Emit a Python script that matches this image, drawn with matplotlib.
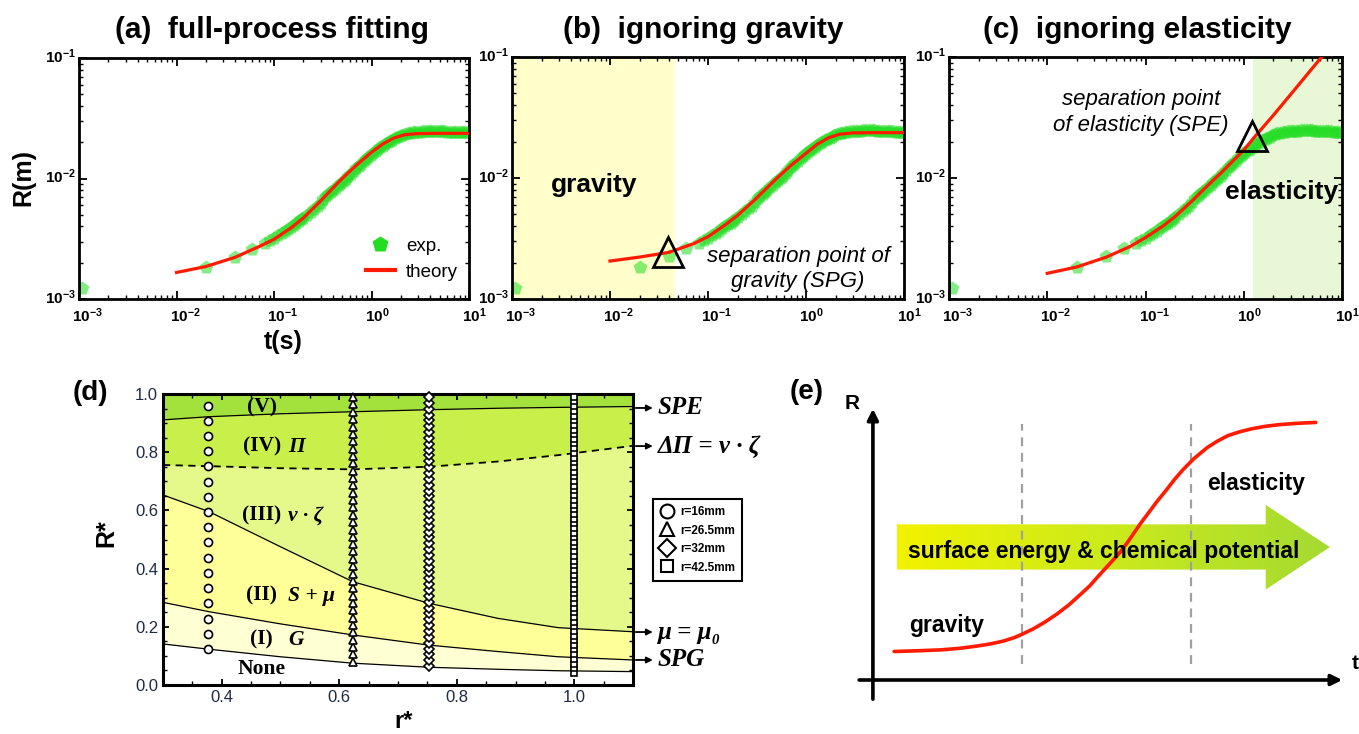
import numpy as np
import matplotlib.pyplot as plt
from matplotlib.lines import Line2D
from matplotlib.patches import Polygon
from matplotlib.colors import LinearSegmentedColormap
from matplotlib.transforms import ScaledTranslation

plt.rcParams['font.family'] = ['Liberation Sans', 'DejaVu Sans']
plt.rcParams['mathtext.fontset'] = 'custom'
plt.rcParams['mathtext.rm'] = 'Liberation Sans:bold'
plt.rcParams['mathtext.it'] = 'Liberation Sans:bold:italic'
plt.rcParams['mathtext.bf'] = 'Liberation Sans:bold'

# ---- (a)-(c): experiment, R(t) in m
t_exp = [0.00107, 0.02, 0.04, 0.06, 0.08, 0.09,
         0.10, 0.11, 0.12, 0.13, 0.14, 0.15, 0.16, 0.17, 0.18, 0.19, 0.20, 0.22,
         0.24, 0.26, 0.28, 0.30, 0.32, 0.34, 0.36, 0.38, 0.40, 0.43, 0.46, 0.49,
         0.52, 0.55, 0.58, 0.62, 0.66, 0.70, 0.74, 0.78, 0.83, 0.88, 0.93, 0.98,
         1.04, 1.10, 1.16, 1.23, 1.30, 1.38, 1.46, 1.55, 1.64, 1.74, 1.84, 1.95,
         2.07, 2.20, 2.35, 2.50, 2.65, 2.80, 3.00, 3.20, 3.40, 3.60, 3.85, 4.10,
         4.40, 4.70, 5.00, 5.30, 5.60, 6.00, 6.40, 6.80, 7.20, 7.70, 8.20, 8.70,
         9.20, 9.70]
R_exp = [0.00123, 0.00183, 0.00225, 0.00262, 0.00292, 0.00307,
         0.00322, 0.00338, 0.00353, 0.00368, 0.00383, 0.00398, 0.00413, 0.00428,
         0.00443, 0.00458, 0.00472, 0.0050, 0.0053, 0.0056, 0.0059, 0.0063,
         0.0068, 0.0071, 0.0074, 0.0077, 0.0080, 0.0084, 0.0088, 0.0092, 0.0096,
         0.0100, 0.0104, 0.0109, 0.0116, 0.0123, 0.0128, 0.0133, 0.0139, 0.0145,
         0.0151, 0.0157, 0.0163, 0.0169, 0.0175, 0.0181, 0.0187, 0.0193, 0.0199,
         0.0205, 0.0210, 0.0215, 0.0220, 0.0225, 0.0230, 0.0234, 0.0237, 0.0240,
         0.0242, 0.0243, 0.0244, 0.0245, 0.0246, 0.0246, 0.0247, 0.0247, 0.0247,
         0.0247, 0.0247, 0.0246, 0.0246, 0.0245, 0.0245, 0.0244, 0.0244, 0.0243,
         0.0242, 0.0242, 0.0241, 0.0241]

# theory curves
t_full = [0.01, 0.02, 0.04, 0.07, 0.1, 0.15, 0.2, 0.3, 0.4, 0.5, 0.7, 1.0, 1.3,
          1.7, 2.2, 3.0, 5.0, 10]
R_full = [0.00166, 0.00186, 0.00222, 0.00272, 0.00313, 0.0039, 0.0047, 0.0065,
          0.0083, 0.0100, 0.0129, 0.0165, 0.0193, 0.0217, 0.0231, 0.0236, 0.0237,
          0.0237]
R_nograv = [0.00206, 0.00222, 0.00243, 0.00285, 0.00327, 0.0041, 0.0049, 0.0066,
            0.0083, 0.0099, 0.0127, 0.0160, 0.0190, 0.0215, 0.0230, 0.0236,
            0.0237, 0.0237]
t_noelas = [0.01, 0.02, 0.04, 0.07, 0.1, 0.15, 0.2, 0.3, 0.4, 0.6, 1.0, 1.3, 2.0,
            3.0, 4.5, 6.2]
R_noelas = [0.00163, 0.00184, 0.00222, 0.00272, 0.00322, 0.0040, 0.0048, 0.0065,
            0.0082, 0.0112, 0.0170, 0.0220, 0.0330, 0.0490, 0.0730, 0.1000]

spg_t, spg_R = 0.0394, 0.00244
spe_t, spe_R = 1.22, 0.0222
gravity_end = 0.046
elastic_start = 1.25

# ---- (d): phase diagram
r_line = [0.3, 0.378, 0.5, 0.623, 0.7525, 0.87, 0.973, 1.1]
spe_line = [0.911, 0.922, 0.932, 0.939, 0.946, 0.951, 0.954, 0.957]
pi_line = [0.756, 0.752, 0.745, 0.741, 0.750, 0.768, 0.790, 0.822]
mu_line = [0.653, 0.596, 0.475, 0.355, 0.281, 0.229, 0.197, 0.183]
spg_line = [0.284, 0.252, 0.210, 0.172, 0.137, 0.115, 0.097, 0.086]
none_line = [0.141, 0.123, 0.097, 0.075, 0.061, 0.054, 0.049, 0.046]

r_16, r_265, r_32, r_425 = 0.376, 0.624, 0.753, 1.0
R_16 = [0.124, 0.176, 0.228, 0.281, 0.333, 0.385, 0.437, 0.490, 0.542, 0.594,
        0.646, 0.699, 0.751, 0.803, 0.855, 0.908, 0.960]
R_265 = [0.080, 0.105, 0.130, 0.156, 0.181, 0.206, 0.231, 0.257, 0.282, 0.307,
         0.332, 0.358, 0.383, 0.408, 0.433, 0.459, 0.484, 0.509, 0.534, 0.560,
         0.585, 0.610, 0.635, 0.661, 0.686, 0.711, 0.736, 0.762, 0.787, 0.812,
         0.837, 0.863, 0.888, 0.913, 0.938, 0.964, 0.989]
R_32 = [0.065, 0.085, 0.105, 0.125, 0.145, 0.166, 0.186, 0.206, 0.226, 0.246,
        0.266, 0.286, 0.306, 0.326, 0.346, 0.367, 0.387, 0.407, 0.427, 0.447,
        0.467, 0.487, 0.507, 0.527, 0.547, 0.568, 0.588, 0.608, 0.628, 0.648,
        0.668, 0.688, 0.708, 0.728, 0.748, 0.769, 0.789, 0.809, 0.829, 0.849,
        0.869, 0.889, 0.909, 0.929, 0.949, 0.970, 0.990]
R_425 = [0.041, 0.057, 0.073, 0.089, 0.105, 0.122, 0.138, 0.154, 0.170, 0.186,
         0.202, 0.218, 0.234, 0.250, 0.266, 0.282, 0.299, 0.315, 0.331, 0.347,
         0.363, 0.379, 0.395, 0.411, 0.427, 0.443, 0.460, 0.476, 0.492, 0.508,
         0.524, 0.540, 0.556, 0.572, 0.588, 0.604, 0.620, 0.637, 0.653, 0.669,
         0.685, 0.701, 0.717, 0.733, 0.749, 0.765, 0.781, 0.797, 0.814, 0.830,
         0.846, 0.862, 0.878, 0.894, 0.910, 0.926, 0.942, 0.958, 0.975, 0.991]

region_roman = ['(V)', '(IV)', '(III)', '(II)', '(I)', 'None']
region_ital = ['', 'Π', 'ν · ζ', 'S + μ', 'G', '']
region_R = [0.952, 0.819, 0.582, 0.306, 0.155, 0.055]
side_labels = ['SPE', 'ΔΠ = ν · ζ', 'μ = μ₀', 'SPG']
side_R = [0.952, 0.821, 0.182, 0.086]

# ---- (e): schematic
sk_t = [0.45, 1.0, 1.44, 1.8, 2.17, 2.5, 2.76, 3.0, 3.16, 3.4, 3.64, 3.9, 4.15,
        4.37, 4.59, 4.77, 4.95, 5.10, 5.25, 5.40, 5.54, 5.68, 5.83, 6.01, 6.20,
        6.38, 6.56, 6.80, 7.08, 7.30, 7.52, 7.77, 8.03, 8.32, 8.61, 9.0, 9.38]
sk_R = [1.04, 1.07, 1.10, 1.15, 1.23, 1.32, 1.42, 1.55, 1.67, 1.87, 2.11, 2.41,
        2.74, 3.08, 3.43, 3.78, 4.12, 4.40, 4.69, 5.04, 5.39, 5.74, 6.08, 6.50,
        6.90, 7.30, 7.66, 8.08, 8.48, 8.72, 8.92, 9.06, 9.17, 9.26, 9.32, 9.37,
        9.40]
stage_t = [3.16, 6.73]
arrow_t = [0.50, 8.32, 8.32, 9.68, 8.32, 8.32, 0.50]
arrow_R = [4.03, 4.03, 3.30, 4.85, 6.39, 5.68, 5.68]

W, H = 1359, 734


def box(l, t, r, b):
    return [l / W, 1 - b / H, (r - l) / W, (b - t) / H]


fig = plt.figure(figsize=(W / 100, H / 100), dpi=100)

GREEN = '#22DD22'
RED = '#FF1A00'
x_shift = ScaledTranslation(-0.07, 0, fig.dpi_scale_trans)
y_shift = ScaledTranslation(0, 0.03, fig.dpi_scale_trans)


def log_panel(ax, t_th, R_th):
    ax.set_xscale('log')
    ax.set_yscale('log')
    ax.plot(t_exp, R_exp, 'p', ms=10.5, color=GREEN, alpha=0.55, mec='none', zorder=2)
    ax.plot(t_th, R_th, color=RED, lw=2.3, zorder=3)
    ax.set_xlim(1e-3, 10)
    ax.set_ylim(1e-3, 1e-1)
    ax.set_xticks([1e-3, 1e-2, 1e-1, 1, 10])
    ax.set_xticklabels([r'$10^{-3}$', r'$10^{-2}$', r'$10^{-1}$', r'$10^{0}$', r'$10^{1}$'])
    ax.set_yticks([1e-3, 1e-2, 1e-1])
    ax.set_yticklabels([r'$10^{-3}$', r'$10^{-2}$', r'$10^{-1}$'])
    ax.tick_params(which='both', direction='in', top=True, right=True, labelsize=11)
    ax.tick_params(which='major', length=6, width=1.3, pad=5)
    ax.tick_params(axis='y', which='major', pad=2)
    ax.tick_params(which='minor', length=3, width=1)
    for lab in ax.get_xticklabels():
        lab.set_horizontalalignment('left')
        lab.set_transform(lab.get_transform() + x_shift)
    for lab in ax.get_yticklabels():
        lab.set_transform(lab.get_transform() + y_shift)
    for s in ax.spines.values():
        s.set_linewidth(2)


ax_a = fig.add_axes(box(79, 58, 469, 299))
log_panel(ax_a, t_full, R_full)
h_exp = Line2D([], [], ls='none', marker='p', ms=12, color=GREEN, mec='none')
h_th = Line2D([], [], color=RED, lw=3)
ax_a.legend([h_exp, h_th], ['exp.', 'theory'], loc='lower right',
            bbox_to_anchor=(1.0, 0.03), frameon=False, fontsize=13.5,
            handlelength=1.5, handletextpad=0.6, labelspacing=0.45, borderaxespad=0.2)

ax_b = fig.add_axes(box(512, 57, 904, 299))
log_panel(ax_b, t_full, R_nograv)
ax_b.axvspan(1e-3, gravity_end, color='#FFFFCC', zorder=0, lw=0)
ax_b.plot(spg_t, spg_R, '^', ms=21, mfc='none', mec='k', mew=2, zorder=5)
ax_b.text(0.209, 0.471, 'gravity', transform=ax_b.transAxes, ha='center', va='center',
          fontsize=19, fontweight='bold')
ax_b.text(0.73, 0.124, 'separation point of\ngravity (SPG)', transform=ax_b.transAxes,
          ha='center', va='center', fontsize=16, style='italic', linespacing=1.3)

ax_c = fig.add_axes(box(949, 57, 1342, 299))
log_panel(ax_c, t_noelas, R_noelas)
ax_c.axvspan(elastic_start, 10, color='#E8F8D6', zorder=0, lw=0)
ax_c.plot(spe_t, spe_R, '^', ms=21, mfc='none', mec='k', mew=2, zorder=5)
ax_c.text(0.847, 0.442, 'elasticity', transform=ax_c.transAxes, ha='center', va='center',
          fontsize=19, fontweight='bold')
ax_c.text(0.489, 0.772, 'separation point\nof elasticity (SPE)', transform=ax_c.transAxes,
          ha='center', va='center', fontsize=16, style='italic', linespacing=1.3)

fig.text(272 / W, 1 - 30 / H, '(a)  full-process fitting', ha='center', va='center',
         fontsize=21.5, fontweight='bold')
fig.text(703 / W, 1 - 30 / H, '(b)  ignoring gravity', ha='center', va='center',
         fontsize=21.5, fontweight='bold')
fig.text(1137 / W, 1 - 30 / H, '(c)  ignoring elasticity', ha='center', va='center',
         fontsize=21.5, fontweight='bold')
fig.text(23 / W, 1 - 178 / H, 'R(m)', rotation=90, ha='center', va='center',
         fontsize=18, fontweight='bold')
fig.text(283 / W, 1 - 342 / H, 't(s)', ha='center', va='center',
         fontsize=18, fontweight='bold')

# ---- (d)
ax_d = fig.add_axes(box(163, 394, 633, 685))
ax_d.fill_between(r_line, spe_line, 1.0, color='#A3E23C', lw=0)
ax_d.fill_between(r_line, pi_line, spe_line, color='#C9F04A', lw=0)
ax_d.fill_between(r_line, mu_line, pi_line, color='#E4F98A', lw=0)
ax_d.fill_between(r_line, spg_line, mu_line, color='#FFFF99', lw=0)
ax_d.fill_between(r_line, none_line, spg_line, color='#FFFFD4', lw=0)
for line in (spe_line, mu_line, spg_line, none_line):
    ax_d.plot(r_line, line, color='k', lw=0.9)
ax_d.plot(r_line, pi_line, color='k', lw=1.3, dashes=(4, 3))

mk = dict(ls='none', mfc='white', mec='k', mew=1.2, clip_on=False, zorder=4)
ax_d.plot([r_16] * len(R_16), R_16, marker='o', ms=5.8, **mk)
ax_d.plot([r_265] * len(R_265), R_265, marker='^', ms=6, **mk)
ax_d.plot([r_32] * len(R_32), R_32, marker='D', ms=5.2, **mk)
ax_d.plot([r_425] * len(R_425), R_425, marker='s', ms=4.6, **mk)

serif = ['Liberation Serif', 'DejaVu Serif']
for rom, ital, y in zip(region_roman, region_ital, region_R):
    ax_d.text(0.468, y, rom, ha='center', va='center', fontsize=15.5,
              fontweight='bold', family=serif)
    if ital:
        ax_d.text(0.513, y, ital, ha='left', va='center', fontsize=15.5,
                  fontweight='bold', style='italic', family=serif)

ax_d.set_xlim(0.3, 1.1)
ax_d.set_ylim(0, 1)
ax_d.set_xticks([0.4, 0.6, 0.8, 1.0])
ax_d.set_yticks([0.0, 0.2, 0.4, 0.6, 0.8, 1.0])
ax_d.set_xticks(np.arange(0.3, 1.1, 0.05), minor=True)
ax_d.set_yticks(np.arange(0.0, 1.0, 0.05), minor=True)
ax_d.tick_params(which='both', direction='in', top=True, right=True,
                 labelsize=12, labelcolor='#1E2B45')
ax_d.tick_params(which='major', length=4, width=1.3)
ax_d.tick_params(which='minor', length=3, width=1)
ax_d.set_xticklabels(['0.4', '0.6', '0.8', '1.0'])
ax_d.set_yticklabels(['0.0', '0.2', '0.4', '0.6', '0.8', '1.0'])
for s in ax_d.spines.values():
    s.set_linewidth(2.2)

trans = ax_d.get_yaxis_transform()
for txt, y in zip(side_labels, side_R):
    ax_d.annotate('', xy=(1.048, y), xycoords=trans, xytext=(1.0, y), textcoords=trans,
                  arrowprops=dict(arrowstyle='-|>', color='k', lw=1.3, mutation_scale=9),
                  annotation_clip=False)
    ax_d.text(1.052, y, txt, transform=trans, ha='left', va='center', fontsize=18,
              fontweight='bold', style='italic', family=serif)

leg_h = [Line2D([], [], ls='none', marker=m, ms=ms, mfc='white', mec='k', mew=1.5)
         for m, ms in zip(['o', '^', 'D', 's'], [10, 10, 9, 9])]
leg = ax_d.legend(leg_h, ['r=16mm', 'r=26.5mm', 'r=32mm', 'r=42.5mm'], loc='upper left',
                  bbox_to_anchor=(1.043, 0.639), fancybox=False, edgecolor='k',
                  framealpha=1, borderaxespad=0, handlelength=1.2, handletextpad=0.5,
                  labelspacing=0.55, borderpad=0.6, prop=dict(size=8.5, weight='bold'))
leg.get_frame().set_linewidth(1.5)

fig.text(106 / W, 1 - 533 / H, 'R*', rotation=90, ha='center', va='center',
         fontsize=18, fontweight='bold')
fig.text(404 / W, 1 / H, 'r*', ha='center', va='bottom',
         fontsize=17, fontweight='bold')
fig.text(90 / W, 1 - 393 / H, '(d)', ha='center', va='center', fontsize=20, fontweight='bold')
fig.text(807 / W, 1 - 392 / H, '(e)', ha='center', va='center', fontsize=20, fontweight='bold')

# ---- (e)
ax_e = fig.add_axes(box(872.9, 406, 1345, 680))
cmap = LinearSegmentedColormap.from_list('yg', ['#F2F200', '#CBEA1C', '#A4DA32'])
im = ax_e.imshow(np.linspace(0, 1, 256).reshape(1, -1), cmap=cmap, aspect='auto',
                 extent=[min(arrow_t), max(arrow_t), min(arrow_R), max(arrow_R)], zorder=1)
arrow = Polygon(list(zip(arrow_t, arrow_R)), closed=True, fc='none', ec='none')
ax_e.add_patch(arrow)
im.set_clip_path(arrow)
for ts in stage_t:
    ax_e.plot([ts, ts], [0.59, 9.36], color='#A0A0A0', lw=1.6, dashes=(4, 3), zorder=2)
ax_e.plot(sk_t, sk_R, color=RED, lw=2.6, zorder=3, solid_capstyle='round')
ax_e.text(0.75, 4.69, 'surface energy & chemical potential', ha='left', va='center',
          fontsize=16.5, fontweight='bold', zorder=4)
ax_e.text(7.09, 7.18, 'elasticity', ha='left', va='center', fontsize=16.5,
          fontweight='bold', zorder=4)
ax_e.text(0.77, 1.98, 'gravity', ha='left', va='center', fontsize=16.5,
          fontweight='bold', zorder=4)
ax_e.annotate('', xy=(0, 10), xytext=(0, -0.8),
              arrowprops=dict(arrowstyle='-|>', lw=2.6, color='k', mutation_scale=16),
              annotation_clip=False)
ax_e.annotate('', xy=(10, 0), xytext=(-0.35, 0),
              arrowprops=dict(arrowstyle='-|>', lw=2.6, color='k', mutation_scale=16),
              annotation_clip=False)
ax_e.text(-0.43, 10.1, 'R', ha='center', va='center', fontsize=15, fontweight='bold')
ax_e.text(10.22, 0.6, 't', ha='center', va='center', fontsize=15, fontweight='bold',
          clip_on=False)
ax_e.set_xlim(0, 10)
ax_e.set_ylim(0, 10)
ax_e.axis('off')

fig.savefig('out.png', dpi=100)
